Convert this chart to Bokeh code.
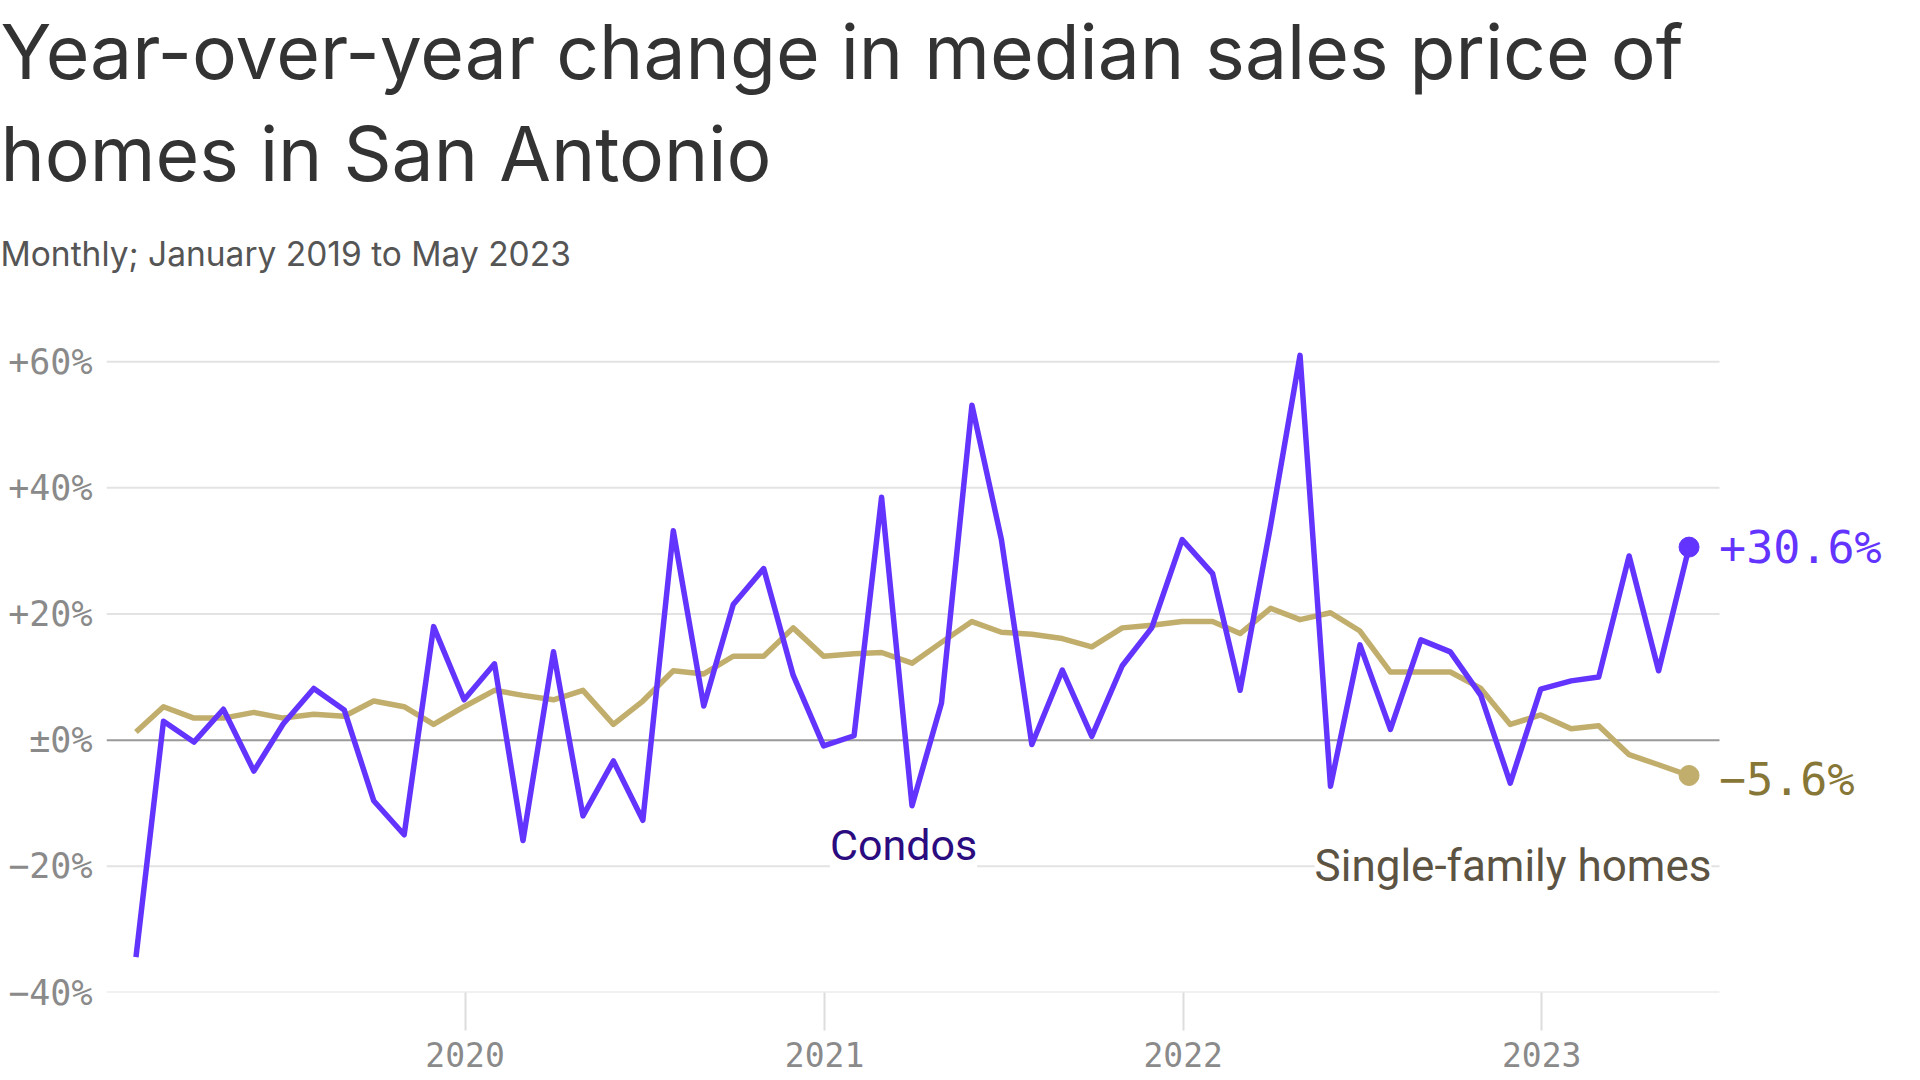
import pandas as pd
from bokeh.plotting import figure
from bokeh.models import Range1d, FixedTicker, Label, Title, DatetimeTickFormatter
from bokeh.embed import file_html
from bokeh.resources import INLINE

# ---- data ----
month_start = pd.date_range("2019-01-01", periods=53, freq="MS")  # Jan 2019 .. May 2023
condos = [-34.4, 3.0, -0.3, 4.9, -4.9, 2.6, 8.2, 4.8, -9.6, -15.0, 18.0, 6.4,
          12.1, -15.9, 14.0, -12.0, -3.3, -12.7, 33.2, 5.4, 21.5, 27.2, 10.3, -0.9,
          0.7, 38.5, -10.4, 5.9, 53.1, 31.8, -0.7, 11.1, 0.6, 11.8, 17.8, 31.8,
          26.4, 7.9, 34.0, 61.0, -7.3, 15.1, 1.7, 15.9, 14.0, 7.1, -6.8, 8.1,
          9.4, 10.0, 29.2, 11.0, 30.6]
single_family = [1.3, 5.3, 3.5, 3.5, 4.4, 3.5, 4.1, 3.8, 6.2, 5.3, 2.5, 5.3,
                 7.9, 7.1, 6.4, 7.9, 2.5, 6.2, 11.0, 10.5, 13.3, 13.3, 17.8, 13.3,
                 13.7, 13.9, 12.2, 15.5, 18.8, 17.1, 16.8, 16.1, 14.8, 17.8, 18.2, 18.8,
                 18.8, 16.9, 20.9, 19.1, 20.2, 17.3, 10.8, 10.8, 10.8, 8.2, 2.5, 4.0,
                 1.8, 2.3, -2.3, -3.9, -5.6]
y_ticks = [-40, -20, 0, 20, 40, 60]
y_tick_labels = ["−40%", "−20%", "±0%", "+20%", "+40%", "+60%"]
year_ticks = ["2020-01-01", "2021-01-01", "2022-01-01", "2023-01-01"]
end_labels = ["+30.6%", "−5.6%"]

title_lines = ["Year-over-year change in median sales price of", "homes in San Antonio"]
subtitle = "Monthly; January 2019 to May 2023"

PURPLE = "#6434FF"
TAN = "#C1AE6C"
W = 1900
LEFT = 106

EPOCH = pd.Timestamp("1970-01-01")
def to_ms(ts):
    return (pd.Timestamp(ts) - EPOCH) / pd.Timedelta(milliseconds=1)

# points sit at the end of each month
xs = [to_ms(d + pd.offsets.MonthEnd(1)) for d in month_start]
x_start = to_ms("2019-01-01")
x_data_end = to_ms("2023-07-01")
# frame runs to the right edge so the end labels fit; data area is 1613 px wide
x_end = x_start + (W - LEFT) / 1613 * (x_data_end - x_start)

p = figure(width=W, height=1080, x_axis_type="datetime", title=None,
           x_range=Range1d(x_start, x_end), y_range=Range1d(-40, 68.9),
           output_backend="svg", toolbar_location=None,
           min_border_left=LEFT, min_border_right=0,
           min_border_top=0, min_border_bottom=88)
p.outline_line_color = None
p.grid.visible = False

# ---- titles (added bottom-up: subtitle first) ----
p.add_layout(Title(text=subtitle, align="left", offset=-LEFT, vertical_align="top",
                   text_font="Inter", text_font_size="33.5px", text_font_style="normal",
                   text_color="#555555", standoff=58.8), "above")
p.add_layout(Title(text=title_lines[1], align="left", offset=-LEFT, vertical_align="top",
                   text_font="Inter", text_font_size="75px", text_font_style="normal",
                   text_color="#333333", standoff=7.2), "above")
p.add_layout(Title(text=title_lines[0], align="left", offset=-LEFT, vertical_align="top",
                   text_font="Inter", text_font_size="75px", text_font_style="normal",
                   text_color="#333333", standoff=11), "above")

# horizontal grid lines, limited to the data area
grid_y = [t for t in y_ticks if t != 0]
p.segment(x0=[x_start] * len(grid_y), x1=[x_data_end] * len(grid_y), y0=grid_y, y1=grid_y,
          line_color="#e3e3e3", line_width=2, level="underlay")
p.segment(x0=[x_start], x1=[x_data_end], y0=[0], y1=[0],
          line_color="#999999", line_width=2, level="underlay")

# y axis
ya = p.yaxis[0]
ya.ticker = FixedTicker(ticks=y_ticks)
ya.major_label_overrides = {t: l for t, l in zip(y_ticks, y_tick_labels)}
ya.axis_line_color = None
ya.major_tick_line_color = None
ya.minor_tick_line_color = None
ya.major_label_standoff = 8
ya.major_label_text_font = "DejaVu Sans Mono"
ya.major_label_text_font_size = "35px"
ya.major_label_text_color = "#8a8a8a"

# x axis
xa = p.xaxis[0]
xa.ticker = FixedTicker(ticks=[to_ms(t) for t in year_ticks])
xa.formatter = DatetimeTickFormatter(years="%Y", months="%Y", days="%Y", hours="%Y",
                                     minutes="%Y", seconds="%Y", milliseconds="%Y",
                                     microseconds="%Y", minsec="%Y", hourmin="%Y")
xa.axis_line_color = None
xa.major_tick_in = 0
xa.major_tick_out = 38
xa.major_tick_line_color = "#dddddd"
xa.major_tick_line_width = 2
xa.minor_tick_line_color = None
xa.major_label_standoff = 11
xa.major_label_text_font = "DejaVu Sans Mono"
xa.major_label_text_font_size = "33px"
xa.major_label_text_color = "#8a8a8a"

# series labels (white box hides the grid line, drawn below the lines)
p.add_layout(Label(x=797, y=-16.6, x_units="screen", text="Condos",
                   text_font="Roboto", text_font_size="43px", text_color="#2A0B80",
                   text_align="center", text_baseline="middle",
                   background_fill_color="white", level="underlay"))
p.add_layout(Label(x=1605, y=-20.0, x_units="screen", text="Single-family homes",
                   text_font="Roboto", text_font_size="44px", text_color="#5C5343",
                   text_align="right", text_baseline="middle",
                   background_fill_color="white", level="underlay"))

# lines
p.line(xs, single_family, line_color=TAN, line_width=5.5, line_join="round")
p.line(xs, condos, line_color=PURPLE, line_width=5.5, line_join="round")
p.scatter([xs[-1]], [single_family[-1]], size=20, color=TAN)
p.scatter([xs[-1]], [condos[-1]], size=20, color=PURPLE)

# end value labels
p.add_layout(Label(x=xs[-1], y=condos[-1], x_offset=30, text=end_labels[0],
                   text_font="DejaVu Sans Mono", text_font_size="45px",
                   text_color=PURPLE, text_baseline="middle"))
p.add_layout(Label(x=xs[-1], y=single_family[-1], x_offset=30, y_offset=-4, text=end_labels[1],
                   text_font="DejaVu Sans Mono", text_font_size="45px",
                   text_color="#877737", text_baseline="middle"))

open("out.html", "w").write(file_html(p, INLINE))
